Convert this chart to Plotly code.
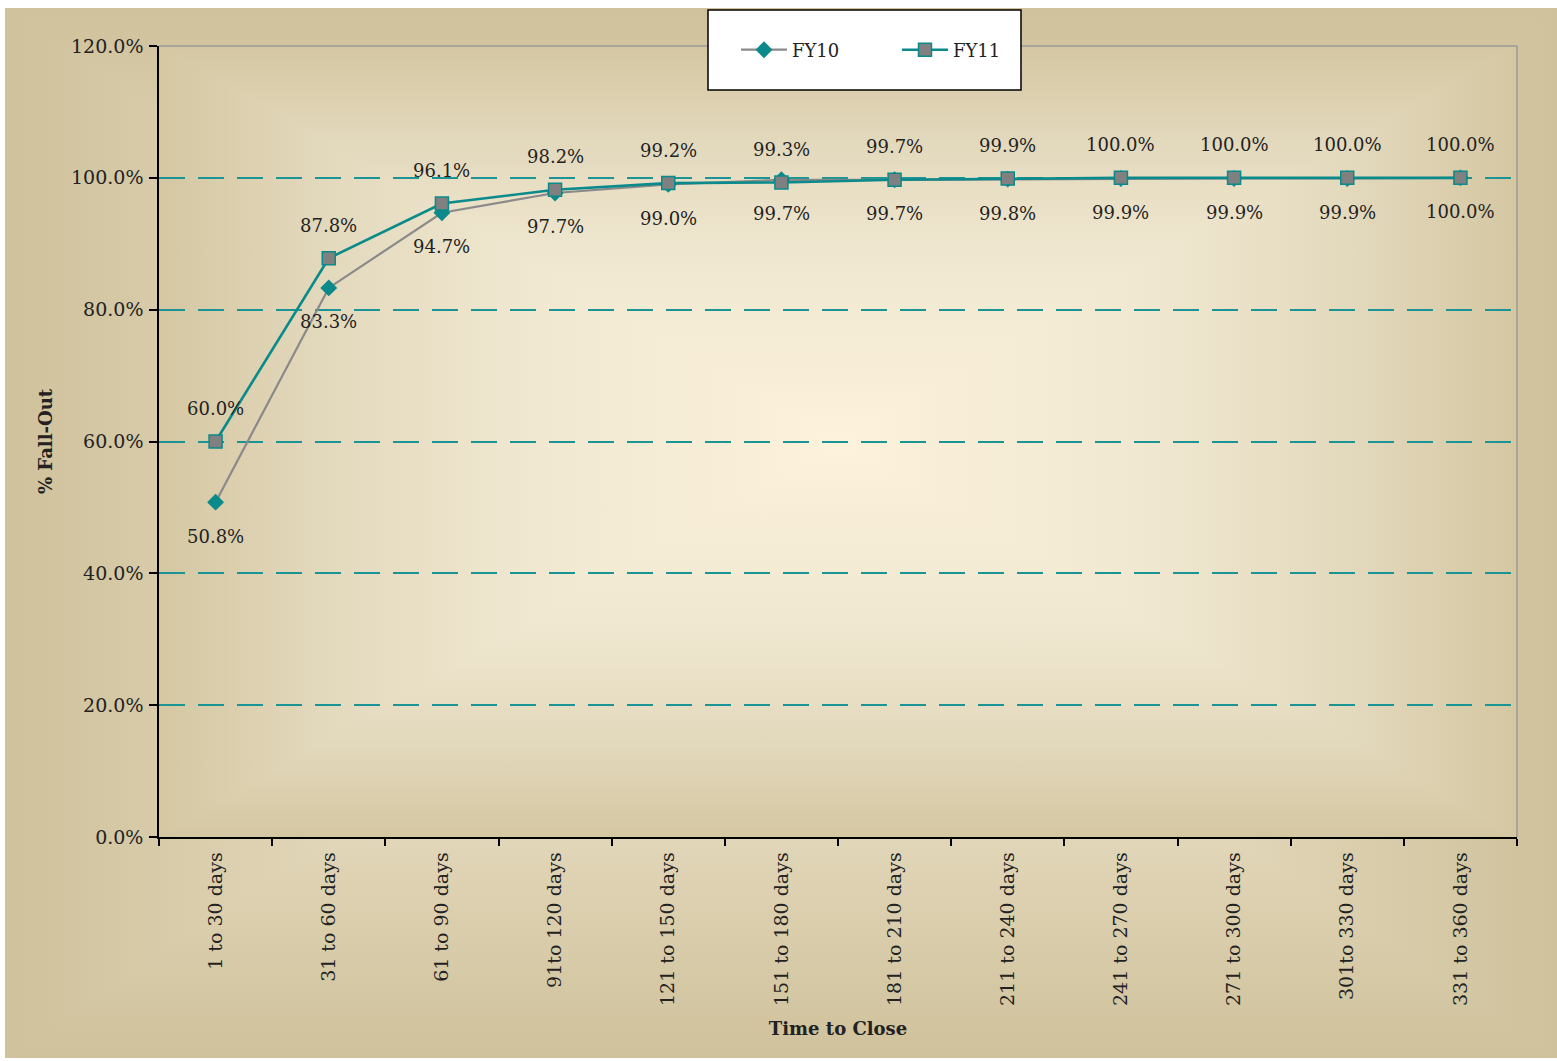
import base64
import plotly.graph_objects as go

categories = ["1 to 30 days", "31 to 60 days", "61 to 90 days", "91to 120 days",
              "121 to 150 days", "151 to 180 days", "181 to 210 days", "211 to 240 days",
              "241 to 270 days", "271 to 300 days", "301to 330 days", "331 to 360 days"]
fy10 = [50.8, 83.3, 94.7, 97.7, 99.0, 99.7, 99.7, 99.8, 99.9, 99.9, 99.9, 100.0]
fy11 = [60.0, 87.8, 96.1, 98.2, 99.2, 99.3, 99.7, 99.9, 100.0, 100.0, 100.0, 100.0]
y_ticks = [0, 20, 40, 60, 80, 100, 120]

FONT = "DejaVu Serif"
TEAL = "#0a8a8a"
GRID = "#1a9494"
GRAY = "#8a8a8a"

W, H = 1557, 1061
L, R, T, B = 159, 40, 46, 224
PW, PH = W - L - R, H - T - B


def rect_gradient(w, h, stops):
    cx, cy = w / 2, h / 2
    st = "".join(f"<stop offset='{o}' stop-color='{c}'/>" for o, c in stops)
    defs = (f"<linearGradient id='t' gradientUnits='userSpaceOnUse' x1='0' y1='0' x2='0' y2='{cy}'>{st}</linearGradient>"
            f"<linearGradient id='b' gradientUnits='userSpaceOnUse' x1='0' y1='{h}' x2='0' y2='{cy}'>{st}</linearGradient>"
            f"<linearGradient id='l' gradientUnits='userSpaceOnUse' x1='0' y1='0' x2='{cx}' y2='0'>{st}</linearGradient>"
            f"<linearGradient id='r' gradientUnits='userSpaceOnUse' x1='{w}' y1='0' x2='{cx}' y2='0'>{st}</linearGradient>")
    polys = (f"<polygon points='0,0 {w},0 {cx},{cy}' fill='url(#t)'/>"
             f"<polygon points='0,{h} {w},{h} {cx},{cy}' fill='url(#b)'/>"
             f"<polygon points='0,0 0,{h} {cx},{cy}' fill='url(#l)'/>"
             f"<polygon points='{w},0 {w},{h} {cx},{cy}' fill='url(#r)'/>")
    svg = (f"<svg xmlns='http://www.w3.org/2000/svg' width='{w}' height='{h}' viewBox='0 0 {w} {h}' "
           f"preserveAspectRatio='none' shape-rendering='crispEdges'><defs>{defs}</defs>"
           f"<rect width='{w}' height='{h}' fill='{stops[-1][1]}'/>{polys}</svg>")
    return "data:image/svg+xml;base64," + base64.b64encode(svg.encode()).decode()


inner_bg = rect_gradient(PW, PH, [(0, "#d5c7a2"), (0.25, "#e3d9bd"), (0.55, "#f0e8d1"), (1, "#fdf2db")])
outer_bg = rect_gradient(W - 5, H - 11, [(0, "#cfc19b"), (0.3, "#dcd0b0"), (0.7, "#ede4cb"), (1, "#f6edd6")])

fig = go.Figure()
fig.add_trace(go.Scatter(x=categories, y=fy10, name="FY10", mode="lines+markers",
                         line=dict(color=GRAY, width=2.2),
                         marker=dict(symbol="diamond", size=13, color=TEAL, line=dict(width=0))))
fig.add_trace(go.Scatter(x=categories, y=fy11, name="FY11", mode="lines+markers",
                         line=dict(color=TEAL, width=2.6),
                         marker=dict(symbol="square", size=13, color="#808080", line=dict(color=TEAL, width=1.5))))

ann = []
for c, v in zip(categories, fy11):
    ann.append(dict(x=c, y=v, text=f"{v:.1f}%", showarrow=False, yshift=33,
                    font=dict(family=FONT, size=18, color="#222")))
for c, v in zip(categories, fy10):
    ann.append(dict(x=c, y=v, text=f"{v:.1f}%", showarrow=False, yshift=-34,
                    font=dict(family=FONT, size=18, color="#222")))

px = lambda p: (p - L) / PW
py = lambda p: (H - B - p) / PH

fig.update_layout(
    width=W, height=H,
    margin=dict(l=L, r=R, t=T, b=B, autoexpand=False),
    paper_bgcolor="white", plot_bgcolor="rgba(0,0,0,0)",
    font=dict(family=FONT, size=18, color="#222"),
    annotations=ann,
    showlegend=True,
    legend=dict(orientation="h", x=px(736), y=py(50), xanchor="left", yanchor="middle",
                bgcolor="rgba(0,0,0,0)", borderwidth=0, font=dict(family=FONT, size=18, color="#222"),
                itemwidth=46, entrywidth=100),
    images=[
        dict(source=outer_bg, xref="paper", yref="paper", x=px(5), y=py(8),
             sizex=(W - 5) / PW, sizey=(H - 11) / PH, sizing="stretch", layer="below",
             xanchor="left", yanchor="top"),
        dict(source=inner_bg, xref="paper", yref="paper", x=0, y=1, sizex=1, sizey=1,
             sizing="stretch", layer="below", xanchor="left", yanchor="top"),
    ],
    shapes=[
        dict(type="line", xref="paper", yref="paper", x0=0, x1=1, y0=1, y1=1,
             line=dict(color="#9a9a9a", width=1.5), layer="above"),
        dict(type="line", xref="paper", yref="paper", x0=1, x1=1, y0=0, y1=1,
             line=dict(color="#9a9a9a", width=1.5), layer="above"),
        dict(type="rect", xref="paper", yref="paper", x0=px(708), x1=px(1021), y0=py(90), y1=py(10),
             fillcolor="white", line=dict(color="black", width=1.5), layer="above"),
    ],
)

fig.update_xaxes(
    type="category", range=[-0.5, len(categories) - 0.5],
    showline=True, linecolor="black", linewidth=1.5,
    ticks="outside", tickson="boundaries", ticklen=7, tickcolor="black", tickwidth=1.5,
    tickangle=-90, tickfont=dict(family=FONT, size=19, color="#222"), ticklabelstandoff=6,
    showgrid=False,
    title=dict(text="<b>Time to Close</b>", font=dict(family=FONT, size=18, color="#222"), standoff=17),
)
fig.update_yaxes(
    range=[0, 120], tickvals=y_ticks, ticktext=[f"{v:.1f}%" for v in y_ticks],
    showline=True, linecolor="black", linewidth=1.5,
    ticks="outside", ticklen=8, tickcolor="black", tickwidth=1.5,
    tickfont=dict(family=FONT, size=19, color="#222"), ticklabelstandoff=2,
    showgrid=True, gridcolor=GRID, gridwidth=1.8, griddash="26px,13px",
    zeroline=False,
    title=dict(text="<b>% Fall-Out</b>", font=dict(family=FONT, size=18, color="#222"), standoff=14),
)

fig.write_html("out.html")
